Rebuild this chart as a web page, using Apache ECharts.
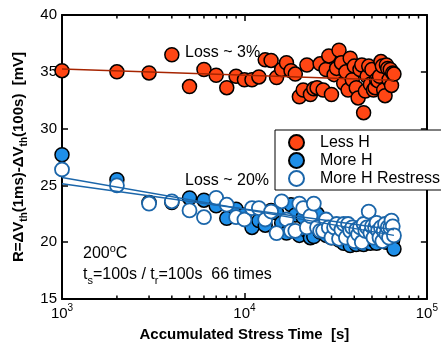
<!DOCTYPE html>
<html>
<head>
<meta charset="utf-8">
<script src="https://cdn.jsdelivr.net/npm/echarts@6/dist/echarts.min.js"></script>
<style>html,body{margin:0;padding:0;background:#fff}#c{width:441px;height:347px}</style>
</head>
<body>
<div id="c"></div>
<script>
// Accumulated stress time (s): 66 cycles of 1000 s
const stressTime = [1000,2000,3000,4000,5000,6000,7000,8000,9000,10000,
 11000,12000,13000,14000,15000,16000,17000,18000,19000,20000,
 21000,22000,23000,24000,25000,26000,27000,28000,29000,30000,
 31000,32000,33000,34000,35000,36000,37000,38000,39000,40000,
 41000,42000,43000,44000,45000,46000,47000,48000,49000,50000,
 51000,52000,53000,54000,55000,56000,57000,58000,59000,60000,
 61000,62000,63000,64000,65000,66000];
const lessH = [35.1,35.0,34.9,36.5,33.7,35.2,34.7,33.6,34.6,34.3,
 34.3,34.55,36.05,36.0,34.5,35.2,35.8,35.1,34.8,32.8,
 33.4,35.6,33.0,33.5,33.6,35.7,33.4,35.2,36.4,33.0,
 34.75,35.3,36.9,35.8,34.0,35.0,33.4,36.2,34.3,35.5,
 33.6,32.7,35.2,35.6,31.4,33.3,34.6,35.5,33.9,35.2,
 33.4,33.6,34.3,34.2,34.6,35.9,35.5,33.4,32.9,35.6,
 35.3,34.3,35.2,33.8,34.9,34.8];
const moreH = [27.7,25.5,23.5,23.5,23.9,23.7,23.2,22.1,22.9,22.4,
 21.3,21.9,21.5,22.8,22.6,21.7,20.8,23.3,22.4,20.6,
 22.2,21.0,20.4,20.5,22.5,20.9,21.5,20.6,21.2,20.4,
 20.8,21.3,20.2,20.9,19.9,20.6,21.2,19.7,20.5,20.9,
 19.8,20.7,21.0,20.2,19.8,20.8,20.5,21.6,19.9,20.7,
 20.2,21.0,19.9,20.8,20.4,21.1,20.1,21.5,20.5,20.0,
 21.2,20.3,21.8,20.6,20.2,19.4];
const moreHRestress = [26.4,25.0,23.4,23.6,22.8,22.2,23.9,23.3,22.2,22.0,
 23.0,23.0,22.0,22.7,20.8,23.6,22.0,21.0,21.0,23.4,
 23.0,21.3,22.3,23.4,21.3,21.0,21.0,22.0,21.3,20.4,
 21.3,21.6,20.3,21.1,21.6,20.4,21.6,21.0,21.3,20.1,
 21.1,20.7,21.3,20.0,21.6,21.0,21.3,22.7,20.8,21.4,
 20.4,21.3,21.7,21.0,20.4,21.3,20.1,21.0,21.6,20.7,
 21.3,20.4,21.3,21.9,21.4,20.6];
// Fit lines (endpoints)
const fitX = [1000, 66000];
const fitLessH = [35.25, 34.25];
const fitMoreH = [25.7, 20.6];
const fitRestress = [25.15, 21.1];
// Axis ticks
const xMajorTicks = [1000, 10000, 100000];
const xMinorTicks = [2000,3000,4000,5000,6000,7000,8000,9000,20000,30000,40000,50000,60000,70000,80000,90000];
const yTicks = [15,20,25,30,35,40];

const FONT = 'Liberation Sans, Arial, Helvetica, sans-serif';
const RED = '#ff4614', BLUE = '#1f8fe8', LBLUE = '#1b66aa', RLINE = '#a62400';
const pair = (xs, ys) => xs.map((x, i) => [x, ys[i]]);

const chart = echarts.init(document.getElementById('c'), null, {renderer: 'canvas'});
const supRich = {
  b: {fontSize: 15, fontFamily: FONT, color: '#000', lineHeight: 18, verticalAlign: 'bottom'},
  sup: {fontSize: 10, fontFamily: FONT, color: '#000', lineHeight: 18, verticalAlign: 'top', padding: [0,0,6,0]}
};
const annRich = {
  b: {fontSize: 16, fontFamily: FONT, color: '#000', lineHeight: 19, verticalAlign: 'bottom'},
  sup: {fontSize: 11, fontFamily: FONT, color: '#000', lineHeight: 19, verticalAlign: 'top', padding: [0,0,8,0]}
};
const axisCommon = {
  axisLine: {show: true, onZero: false, lineStyle: {color: '#000', width: 2}},
  splitLine: {show: false},
};
chart.setOption({
  animation: false,
  grid: {left: 62, right: 9, top: 15, bottom: 45},
  legend: {
    data: ['Less H', 'More H', 'More H Restress'],
    orient: 'vertical', left: 275, top: 130,
    padding: [4, 40, 3, 13], itemGap: 1, itemWidth: 15, itemHeight: 15,
    backgroundColor: '#fff', borderColor: '#000', borderWidth: 1, borderRadius: 0,
    textStyle: {fontSize: 16, fontFamily: FONT, color: '#000', padding: [0,0,0,11], lineHeight: 15},
    icon: 'circle'
  },
  xAxis: [{
    type: 'log', logBase: 10, min: 1000, max: 100000, splitNumber: 2,
    ...axisCommon,
    axisTick: {show: true, inside: true, length: 6, lineStyle: {color: '#000', width: 1.5}},
    axisLabel: {show: true, margin: 4, formatter: v => '{b|10}{sup|' + Math.round(Math.log10(v)) + '}', rich: supRich, customValues: xMajorTicks},
    name: 'Accumulated Stress Time  [s]', nameLocation: 'middle', nameGap: 28,
    nameTextStyle: {fontSize: 15, fontWeight: 'bold', fontFamily: FONT, color: '#000'}
  }, {
    type: 'log', logBase: 10, min: 1000, max: 100000, splitNumber: 2, position: 'top',
    ...axisCommon,
    axisTick: {show: true, inside: true, length: 6, lineStyle: {color: '#000', width: 1.5}},
    axisLabel: {show: false}
  }],
  yAxis: [{
    type: 'value', min: 15, max: 40, interval: 5,
    ...axisCommon,
    axisTick: {show: true, inside: true, length: 6, lineStyle: {color: '#000', width: 1.5}},
    axisLabel: {fontSize: 15, fontFamily: FONT, color: '#000', margin: 5},
    name: '{b|R=ΔV}{s|th}{b|(1ms)-ΔV}{s|th}{b|(100s)  [mV]}', nameLocation: 'middle', nameRotate: 90, nameGap: 25,
    nameTextStyle: {rich: {
      b: {fontSize: 15, fontWeight: 'bold', fontFamily: FONT, color: '#000', lineHeight: 18, verticalAlign: 'top'},
      s: {fontSize: 10, fontWeight: 'bold', fontFamily: FONT, color: '#000', lineHeight: 18, verticalAlign: 'bottom'}
    }}
  }, {
    type: 'value', min: 15, max: 40, interval: 5, position: 'right',
    ...axisCommon,
    axisTick: {show: true, inside: true, length: 6, lineStyle: {color: '#000', width: 1.5}},
    axisLabel: {show: false}
  }],
  graphic: [
    {type: 'text', left: 185, top: 45, z: 10, style: {text: 'Loss ~ 3%', font: '16px ' + FONT, fill: '#000'}},
    {type: 'text', left: 185, top: 173, z: 10, style: {text: 'Loss ~ 20%', font: '16px ' + FONT, fill: '#000'}},
    {type: 'text', left: 83, top: 243, z: 10, style: {text: '{b|200}{sup|o}{b|C}', rich: annRich}},
    {type: 'text', left: 83, top: 267, z: 10, style: {text: '{b|t}{sub|s}{b|=100s / t}{sub|r}{b|=100s  66 times}', rich: {
      b: {fontSize: 16, fontFamily: FONT, color: '#000', lineHeight: 19, verticalAlign: 'top'},
      sub: {fontSize: 11, fontFamily: FONT, color: '#000', lineHeight: 19, verticalAlign: 'bottom', padding: [6,0,0,0]}
    }}}
  ],
  series: [
    {
      type: 'custom', name: 'minorTicks', silent: true, clip: false, z: 5,
      data: xMinorTicks.map(v => [v, 15]),
      renderItem: (params, api) => {
        const v = api.value(0);
        const b = api.coord([v, 15]);
        const t = api.coord([v, 40]);
        const st = {stroke: '#000', lineWidth: 1.5};
        return {type: 'group', children: [
          {type: 'line', shape: {x1: b[0], y1: b[1], x2: b[0], y2: b[1] - 3.5}, style: st},
          {type: 'line', shape: {x1: t[0], y1: t[1], x2: t[0], y2: t[1] + 3.5}, style: st}
        ]};
      }
    },
    {
      name: 'Less H', type: 'scatter', data: pair(stressTime, lessH), symbolSize: 14, z: 2,
      itemStyle: {color: RED, borderColor: '#000', borderWidth: 1.5, opacity: 1}
    },
    {
      name: 'More H', type: 'scatter', data: pair(stressTime, moreH), symbolSize: 14, z: 2,
      itemStyle: {color: BLUE, borderColor: '#000', borderWidth: 1.5, opacity: 1}
    },
    {
      name: 'More H Restress', type: 'scatter', data: pair(stressTime, moreHRestress), symbolSize: 14, z: 3,
      itemStyle: {color: '#fff', borderColor: LBLUE, borderWidth: 1.8, opacity: 1}
    },
    {type: 'line', name: 'fit1', data: pair(fitX, fitLessH), symbol: 'none', z: 4, lineStyle: {color: RLINE, width: 1.5}},
    {type: 'line', name: 'fit2', data: pair(fitX, fitMoreH), symbol: 'none', z: 4, lineStyle: {color: LBLUE, width: 1.5}},
    {type: 'line', name: 'fit3', data: pair(fitX, fitRestress), symbol: 'none', z: 4, lineStyle: {color: LBLUE, width: 1.5}}
  ]
});
</script>
</body>
</html>
